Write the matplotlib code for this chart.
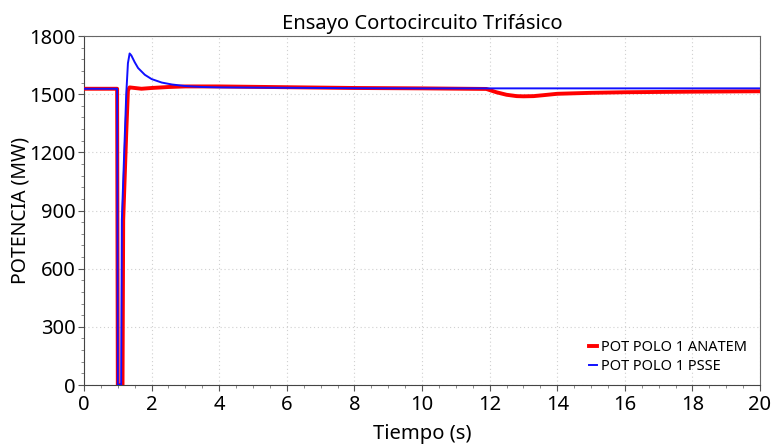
import matplotlib
matplotlib.use("Agg")
import matplotlib.pyplot as plt
from matplotlib.ticker import MultipleLocator

plt.rcParams['font.family'] = ['Noto Sans', 'DejaVu Sans']

title = "Ensayo Cortocircuito Trifásico"
xlabel = "Tiempo (s)"
ylabel = "POTENCIA (MW)"

t_anatem = [0, 0.98, 1.0, 1.1, 1.14, 1.16, 1.2, 1.25, 1.3, 1.35, 1.5, 1.7, 2.0, 2.5, 3.0, 4.0,
            6.0, 8.0, 10.0, 11.9, 12.2, 12.5, 12.8, 13.0, 13.3, 13.6, 14.0, 15.0, 16.0, 18.0, 20.0]
p_anatem = [1528, 1528, 0, 0, 0, 850, 1050, 1300, 1520, 1535, 1532, 1528, 1532, 1537, 1540, 1540,
            1536, 1532, 1530, 1527, 1510, 1497, 1490, 1489, 1490, 1495, 1502, 1507, 1510, 1513, 1515]

t_psse = [0, 0.98, 1.0, 1.08, 1.1, 1.12, 1.15, 1.2, 1.25, 1.3, 1.35, 1.4, 1.5, 1.6, 1.8, 2.0,
          2.3, 2.6, 3.0, 3.5, 4.0, 6.0, 8.0, 10.0, 12.0, 14.0, 20.0]
p_psse = [1528, 1528, 0, 0, 0, 850, 1000, 1250, 1500, 1660, 1710, 1700, 1665, 1635, 1600, 1578,
          1560, 1550, 1542, 1537, 1535, 1533, 1531, 1530, 1530, 1530, 1530]

label_anatem = "POT POLO 1 ANATEM"
label_psse = "POT POLO 1 PSSE"

fig = plt.figure(figsize=(7.72, 4.48), dpi=100)
ax = fig.add_axes([0.1088, 0.1406, 0.8757, 0.779])

ax.plot(t_anatem, p_anatem, color='#ff0000', lw=2.8, label=label_anatem, zorder=3)
ax.plot(t_psse, p_psse, color='#1010ff', lw=1.4, label=label_psse, zorder=4)

ax.set_xlim(0, 20)
ax.set_ylim(0, 1800)
ax.xaxis.set_major_locator(MultipleLocator(2))
ax.xaxis.set_minor_locator(MultipleLocator(0.5))
ax.yaxis.set_major_locator(MultipleLocator(300))
ax.yaxis.set_minor_locator(MultipleLocator(60))
ax.grid(True, which='major', color='#d0d0d0', linestyle=(0, (1, 2.5)), lw=0.8)
ax.tick_params(axis='both', which='major', labelsize=14.5, length=4, color='#555555')
ax.tick_params(axis='y', which='major', pad=2)
ax.tick_params(axis='x', which='major', pad=3)
ax.tick_params(axis='both', which='minor', length=2, color='#777777')

for s in ['left', 'bottom']:
    ax.spines[s].set_color('#444444')
for s in ['top', 'right']:
    ax.spines[s].set_color('#666666')

ax.set_title(title, fontsize=14.5, pad=5)
ax.set_xlabel(xlabel, fontsize=14.5, labelpad=7)
ax.set_ylabel(ylabel, fontsize=14, labelpad=-1)

leg = ax.legend(loc='lower right', frameon=False, fontsize=10.5, handlelength=0.5,
                handletextpad=0.3, labelspacing=0.25, bbox_to_anchor=(1.0, -0.005))

fig.savefig("out.png", dpi=100)
